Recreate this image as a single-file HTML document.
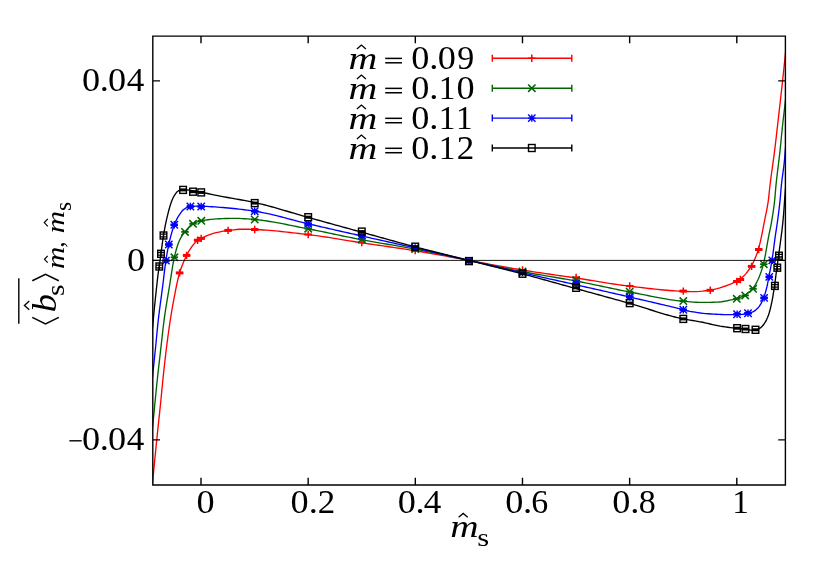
<!DOCTYPE html><html><head><meta charset="utf-8"><title>plot</title><style>html,body{margin:0;padding:0;background:#fff}svg{display:block;will-change:transform}text{font-family:"Liberation Serif",serif;fill:#000}</style></head><body>
<svg width="830" height="581" viewBox="0 0 830 581">
<rect width="830" height="581" fill="#fff"/>
<defs><clipPath id="cp"><rect x="152.8" y="36.1" width="632.6" height="448.9"/></clipPath></defs>
<g clip-path="url(#cp)">
<path d="M151.00,499.00 L151.31,496.04 L151.60,493.08 L151.89,490.11 L152.17,487.15 L152.44,484.19 L152.71,481.22 L152.98,478.26 L153.25,475.29 L153.54,472.33 L153.82,469.37 L154.11,466.41 L154.39,463.44 L154.68,460.48 L154.97,457.52 L155.27,454.56 L155.56,451.59 L155.86,448.63 L156.16,445.67 L156.46,442.71 L156.76,439.75 L157.06,436.79 L157.37,433.83 L157.68,430.86 L157.99,427.90 L158.30,424.94 L158.62,421.98 L158.93,419.02 L159.25,416.06 L159.56,413.10 L159.87,410.14 L160.18,407.18 L160.48,404.22 L160.78,401.26 L161.07,398.30 L161.36,395.34 L161.65,392.37 L161.94,389.41 L162.23,386.45 L162.52,383.48 L162.81,380.52 L163.11,377.56 L163.41,374.60 L163.72,371.64 L164.04,368.68 L164.37,365.72 L164.70,362.76 L165.04,359.81 L165.38,356.85 L165.73,353.89 L166.09,350.94 L166.45,347.98 L166.82,345.03 L167.20,342.08 L167.59,339.13 L167.98,336.18 L168.38,333.22 L168.79,330.28 L169.21,327.33 L169.64,324.38 L170.08,321.44 L170.53,318.50 L171.00,315.56 L171.48,312.62 L171.98,309.69 L172.49,306.75 L173.01,303.82 L173.55,300.89 L174.11,297.97 L174.67,295.05 L175.23,292.11 L175.80,289.18 L176.39,286.25 L177.00,283.33 L177.66,280.42 L178.35,277.53 L179.10,274.67 L179.92,271.83 L180.84,269.01 L181.86,266.21 L182.96,263.42 L184.14,260.67 L185.38,257.95 L186.66,255.28 L188.02,252.63 L189.52,250.03 L191.16,247.56 L192.94,245.16 L194.91,242.85 L197.06,240.82 L199.53,239.23 L202.21,237.90 L204.91,236.61 L207.65,235.39 L210.43,234.32 L213.25,233.45 L216.11,232.71 L219.02,232.04 L221.95,231.45 L224.90,230.94 L227.85,230.53 L230.80,230.17 L233.76,229.81 L236.73,229.51 L239.70,229.29 L242.68,229.20 L245.65,229.22 L248.63,229.29 L251.60,229.39 L254.58,229.50 L257.55,229.62 L260.52,229.78 L263.49,229.96 L266.46,230.16 L269.42,230.39 L272.39,230.64 L275.36,230.91 L278.32,231.20 L281.29,231.50 L284.25,231.81 L287.21,232.14 L290.17,232.47 L293.13,232.82 L296.09,233.17 L299.05,233.52 L302.01,233.87 L304.96,234.22 L307.92,234.57 L310.87,234.93 L313.82,235.31 L316.77,235.70 L319.71,236.12 L322.66,236.55 L325.60,236.99 L328.54,237.45 L331.48,237.92 L334.42,238.39 L337.36,238.87 L340.30,239.35 L343.24,239.84 L346.18,240.32 L349.12,240.80 L352.06,241.28 L355.00,241.75 L357.94,242.22 L360.88,242.67 L363.82,243.11 L366.77,243.55 L369.71,243.98 L372.66,244.41 L375.61,244.84 L378.55,245.26 L381.50,245.68 L384.45,246.11 L387.39,246.53 L390.34,246.96 L393.29,247.38 L396.23,247.81 L399.18,248.25 L402.12,248.69 L405.06,249.13 L408.00,249.59 L410.94,250.05 L413.88,250.52 L416.82,251.00 L419.75,251.48 L422.69,251.98 L425.62,252.49 L428.55,253.00 L431.48,253.53 L434.41,254.05 L437.34,254.59 L440.27,255.12 L443.20,255.66 L446.12,256.21 L449.05,256.75 L451.98,257.30 L454.90,257.84 L457.83,258.38 L460.76,258.92 L463.69,259.46 L466.61,260.00 L469.54,260.53 L472.47,261.06 L475.40,261.59 L478.33,262.13 L481.26,262.67 L484.18,263.21 L487.11,263.76 L490.04,264.30 L492.97,264.84 L495.89,265.38 L498.82,265.92 L501.75,266.46 L504.68,266.99 L507.61,267.51 L510.54,268.03 L513.47,268.54 L516.41,269.04 L519.34,269.53 L522.28,270.02 L525.21,270.49 L528.15,270.96 L531.09,271.41 L534.04,271.86 L536.98,272.30 L539.92,272.74 L542.87,273.18 L545.81,273.60 L548.76,274.03 L551.71,274.46 L554.65,274.88 L557.60,275.30 L560.55,275.73 L563.49,276.15 L566.44,276.58 L569.39,277.01 L572.33,277.44 L575.27,277.88 L578.22,278.33 L581.16,278.79 L584.10,279.25 L587.04,279.73 L589.98,280.21 L592.92,280.69 L595.86,281.18 L598.80,281.66 L601.74,282.14 L604.68,282.62 L607.62,283.09 L610.56,283.55 L613.50,284.00 L616.44,284.44 L619.39,284.87 L622.33,285.27 L625.28,285.66 L628.23,286.03 L631.19,286.38 L634.14,286.73 L637.10,287.08 L640.05,287.43 L643.01,287.78 L645.97,288.13 L648.93,288.46 L651.89,288.79 L654.86,289.11 L657.82,289.42 L660.78,289.72 L663.75,290.00 L666.72,290.26 L669.68,290.50 L672.65,290.72 L675.62,290.92 L678.59,291.09 L681.56,291.23 L684.53,291.35 L687.51,291.46 L690.49,291.55 L693.46,291.60 L696.43,291.55 L699.41,291.37 L702.39,291.08 L705.35,290.72 L708.30,290.32 L711.22,289.90 L714.14,289.32 L717.05,288.61 L719.93,287.80 L722.78,286.92 L725.60,286.00 L728.38,284.97 L731.13,283.80 L733.85,282.55 L736.52,281.24 L739.18,279.84 L741.50,278.12 L743.68,276.10 L745.74,273.87 L747.66,271.48 L749.43,269.01 L751.01,266.52 L752.44,263.99 L753.77,261.34 L755.01,258.60 L756.15,255.80 L757.19,252.97 L758.11,250.13 L758.93,247.31 L759.68,244.45 L760.37,241.56 L761.02,238.66 L761.63,235.73 L762.21,232.80 L762.78,229.86 L763.34,226.92 L763.91,223.99 L764.49,221.07 L765.08,218.15 L765.68,215.23 L766.27,212.31 L766.85,209.39 L767.38,206.46 L767.88,203.52 L768.32,200.59 L768.69,197.64 L769.02,194.68 L769.31,191.71 L769.61,188.75 L769.94,185.79 L770.29,182.84 L770.67,179.88 L771.06,176.93 L771.45,173.98 L771.86,171.03 L772.27,168.09 L772.68,165.14 L773.09,162.19 L773.49,159.24 L773.89,156.29 L774.28,153.34 L774.65,150.38 L775.01,147.43 L775.37,144.48 L775.72,141.52 L776.06,138.56 L776.40,135.61 L776.74,132.65 L777.08,129.69 L777.41,126.73 L777.75,123.77 L778.08,120.82 L778.42,117.86 L778.76,114.90 L779.10,111.94 L779.43,108.99 L779.77,106.03 L780.11,103.07 L780.44,100.11 L780.77,97.16 L781.11,94.20 L781.44,91.24 L781.76,88.28 L782.09,85.32 L782.41,82.36 L782.73,79.40 L783.05,76.45 L783.37,73.49 L783.68,70.53 L783.99,67.57 L784.30,64.60 L784.61,61.64 L784.92,58.68 L785.22,55.72 L785.52,52.76 L785.82,49.80 L786.11,46.84 L786.41,43.88 L786.73,40.92 L787.06,37.96 L787.40,35.00" stroke="#ff0000" stroke-width="1.35" fill="none" stroke-linejoin="round"/>
<path d="M150.70,446.00 L150.98,443.20 L151.26,440.39 L151.54,437.59 L151.82,434.78 L152.10,431.98 L152.38,429.18 L152.66,426.37 L152.94,423.57 L153.22,420.76 L153.49,417.96 L153.76,415.15 L154.03,412.35 L154.31,409.54 L154.58,406.74 L154.85,403.93 L155.12,401.13 L155.39,398.32 L155.67,395.52 L155.95,392.71 L156.23,389.91 L156.51,387.10 L156.80,384.30 L157.09,381.50 L157.39,378.70 L157.70,375.90 L158.00,373.09 L158.32,370.29 L158.63,367.49 L158.95,364.69 L159.28,361.89 L159.60,359.09 L159.92,356.29 L160.25,353.50 L160.57,350.70 L160.89,347.90 L161.21,345.10 L161.53,342.29 L161.83,339.49 L162.14,336.69 L162.45,333.89 L162.76,331.09 L163.08,328.29 L163.41,325.49 L163.75,322.69 L164.11,319.90 L164.49,317.11 L164.89,314.32 L165.31,311.53 L165.74,308.75 L166.18,305.96 L166.63,303.18 L167.09,300.40 L167.56,297.62 L168.02,294.84 L168.49,292.06 L168.96,289.28 L169.42,286.50 L169.87,283.72 L170.31,280.93 L170.74,278.14 L171.17,275.35 L171.61,272.56 L172.05,269.78 L172.52,267.00 L173.01,264.22 L173.53,261.46 L174.08,258.70 L174.68,255.95 L175.33,253.21 L176.04,250.47 L176.83,247.75 L177.69,245.07 L178.65,242.44 L179.77,239.83 L181.05,237.31 L182.50,234.93 L184.25,232.69 L186.07,230.52 L187.93,228.26 L189.89,226.12 L191.99,224.33 L194.31,223.04 L196.94,221.96 L199.72,221.13 L202.46,220.60 L205.22,220.16 L208.00,219.76 L210.81,219.41 L213.64,219.12 L216.47,218.89 L219.30,218.71 L222.11,218.60 L224.93,218.54 L227.75,218.48 L230.57,218.44 L233.39,218.41 L236.20,218.40 L239.02,218.45 L241.84,218.56 L244.65,218.73 L247.47,218.94 L250.28,219.18 L253.09,219.42 L255.88,219.67 L258.68,219.95 L261.47,220.27 L264.26,220.63 L267.04,221.03 L269.83,221.46 L272.61,221.91 L275.38,222.40 L278.16,222.90 L280.93,223.42 L283.71,223.96 L286.48,224.51 L289.25,225.07 L292.02,225.64 L294.79,226.20 L297.56,226.76 L300.32,227.32 L303.09,227.87 L305.86,228.41 L308.63,228.94 L311.40,229.47 L314.16,230.00 L316.93,230.55 L319.69,231.11 L322.45,231.68 L325.21,232.25 L327.97,232.82 L330.73,233.40 L333.49,233.98 L336.24,234.57 L339.00,235.15 L341.76,235.73 L344.52,236.31 L347.28,236.88 L350.04,237.44 L352.80,238.00 L355.56,238.56 L358.33,239.10 L361.10,239.63 L363.87,240.15 L366.64,240.66 L369.41,241.15 L372.19,241.64 L374.96,242.13 L377.74,242.61 L380.52,243.08 L383.30,243.55 L386.08,244.02 L388.86,244.49 L391.64,244.95 L394.42,245.42 L397.19,245.90 L399.97,246.37 L402.75,246.86 L405.52,247.35 L408.30,247.84 L411.07,248.35 L413.84,248.87 L416.61,249.40 L419.37,249.94 L422.13,250.48 L424.90,251.04 L427.66,251.60 L430.42,252.18 L433.17,252.75 L435.93,253.33 L438.69,253.92 L441.44,254.51 L444.20,255.10 L446.95,255.70 L449.71,256.30 L452.46,256.89 L455.22,257.49 L457.97,258.08 L460.73,258.67 L463.49,259.26 L466.24,259.85 L469.00,260.43 L471.76,261.01 L474.52,261.60 L477.27,262.19 L480.03,262.78 L482.78,263.37 L485.54,263.97 L488.29,264.56 L491.05,265.16 L493.80,265.75 L496.56,266.34 L499.32,266.93 L502.07,267.52 L504.83,268.10 L507.59,268.67 L510.35,269.24 L513.11,269.80 L515.87,270.36 L518.64,270.91 L521.40,271.44 L524.17,271.97 L526.94,272.49 L529.71,272.99 L532.48,273.49 L535.26,273.98 L538.04,274.46 L540.81,274.94 L543.59,275.41 L546.37,275.88 L549.15,276.35 L551.93,276.82 L554.71,277.28 L557.49,277.76 L560.27,278.23 L563.05,278.71 L565.82,279.19 L568.60,279.68 L571.37,280.18 L574.14,280.69 L576.91,281.21 L579.68,281.74 L582.44,282.28 L585.21,282.84 L587.97,283.40 L590.73,283.96 L593.49,284.54 L596.25,285.12 L599.01,285.70 L601.76,286.28 L604.52,286.86 L607.28,287.44 L610.04,288.02 L612.80,288.60 L615.56,289.17 L618.32,289.73 L621.08,290.29 L623.84,290.84 L626.61,291.37 L629.38,291.90 L632.15,292.43 L634.91,292.97 L637.68,293.52 L640.45,294.08 L643.22,294.64 L645.99,295.21 L648.76,295.77 L651.53,296.33 L654.30,296.88 L657.07,297.41 L659.85,297.93 L662.62,298.44 L665.40,298.92 L668.18,299.37 L670.97,299.80 L673.75,300.19 L676.54,300.55 L679.33,300.87 L682.12,301.15 L684.92,301.40 L687.73,301.64 L690.54,301.88 L693.36,302.08 L696.17,302.25 L698.99,302.36 L701.81,302.40 L704.63,302.39 L707.45,302.36 L710.27,302.31 L713.09,302.26 L715.89,302.18 L718.70,302.01 L721.51,301.71 L724.32,301.29 L727.12,300.77 L729.90,300.18 L732.65,299.54 L735.37,298.87 L738.06,298.12 L740.75,297.15 L743.34,295.97 L745.75,294.64 L748.09,293.01 L750.29,291.14 L752.26,289.12 L753.94,286.97 L755.46,284.59 L756.83,282.06 L758.06,279.49 L759.17,276.92 L760.20,274.30 L761.15,271.63 L762.02,268.93 L762.81,266.22 L763.52,263.50 L764.17,260.77 L764.75,258.03 L765.30,255.27 L765.81,252.49 L766.30,249.71 L766.78,246.93 L767.25,244.14 L767.74,241.36 L768.23,238.58 L768.76,235.81 L769.31,233.04 L769.88,230.28 L770.46,227.52 L771.01,224.76 L771.54,221.99 L772.01,219.21 L772.46,216.43 L772.90,213.65 L773.32,210.86 L773.71,208.07 L774.08,205.27 L774.43,202.48 L774.73,199.68 L775.00,196.87 L775.23,194.06 L775.46,191.25 L775.69,188.44 L775.95,185.64 L776.23,182.83 L776.53,180.03 L776.85,177.23 L777.18,174.43 L777.51,171.64 L777.86,168.84 L778.20,166.04 L778.55,163.24 L778.89,160.45 L779.23,157.65 L779.56,154.85 L779.88,152.05 L780.18,149.25 L780.47,146.44 L780.75,143.64 L781.03,140.84 L781.30,138.03 L781.57,135.23 L781.85,132.42 L782.13,129.62 L782.42,126.81 L782.73,124.01 L783.04,121.21 L783.36,118.41 L783.69,115.61 L784.02,112.81 L784.35,110.02 L784.68,107.22 L785.01,104.42 L785.33,101.62 L785.65,98.82 L785.96,96.02 L786.27,93.22 L786.57,90.41 L786.85,87.61 L787.13,84.81 L787.40,82.00" stroke="#006400" stroke-width="1.35" fill="none" stroke-linejoin="round"/>
<path d="M150.70,395.00 L150.97,392.34 L151.23,389.68 L151.50,387.02 L151.76,384.36 L152.03,381.70 L152.29,379.04 L152.56,376.38 L152.83,373.72 L153.10,371.06 L153.38,368.40 L153.66,365.74 L153.93,363.08 L154.21,360.42 L154.49,357.76 L154.77,355.10 L155.05,352.44 L155.32,349.78 L155.60,347.12 L155.86,344.46 L156.13,341.80 L156.38,339.14 L156.64,336.48 L156.89,333.82 L157.15,331.16 L157.41,328.50 L157.68,325.84 L157.95,323.18 L158.24,320.52 L158.54,317.86 L158.86,315.21 L159.19,312.56 L159.52,309.90 L159.87,307.25 L160.22,304.60 L160.57,301.95 L160.93,299.30 L161.29,296.65 L161.65,294.00 L162.00,291.35 L162.35,288.70 L162.69,286.05 L163.03,283.40 L163.35,280.74 L163.66,278.09 L163.98,275.43 L164.29,272.77 L164.61,270.12 L164.95,267.47 L165.30,264.82 L165.67,262.17 L166.06,259.53 L166.48,256.89 L166.92,254.24 L167.38,251.61 L167.88,248.98 L168.40,246.36 L168.96,243.75 L169.55,241.14 L170.18,238.53 L170.84,235.92 L171.54,233.33 L172.30,230.75 L173.10,228.21 L173.97,225.70 L174.92,223.22 L176.00,220.75 L177.21,218.33 L178.55,216.02 L180.01,213.80 L181.67,211.54 L183.54,209.57 L185.64,208.21 L188.17,207.22 L190.81,206.64 L193.46,206.30 L196.14,206.11 L198.81,206.13 L201.49,206.21 L204.16,206.31 L206.83,206.44 L209.50,206.59 L212.17,206.75 L214.84,206.94 L217.50,207.13 L220.17,207.33 L222.83,207.54 L225.50,207.76 L228.16,207.99 L230.83,208.24 L233.49,208.51 L236.16,208.79 L238.82,209.08 L241.48,209.39 L244.14,209.72 L246.79,210.06 L249.43,210.41 L252.08,210.78 L254.71,211.17 L257.34,211.59 L259.96,212.04 L262.58,212.54 L265.19,213.06 L267.80,213.62 L270.41,214.21 L273.01,214.82 L275.61,215.45 L278.21,216.10 L280.80,216.76 L283.39,217.44 L285.99,218.12 L288.58,218.81 L291.17,219.50 L293.76,220.18 L296.36,220.87 L298.95,221.54 L301.55,222.20 L304.15,222.84 L306.75,223.47 L309.35,224.08 L311.96,224.68 L314.56,225.28 L317.17,225.88 L319.77,226.48 L322.38,227.07 L324.99,227.67 L327.59,228.27 L330.20,228.86 L332.81,229.45 L335.41,230.05 L338.02,230.64 L340.63,231.23 L343.24,231.82 L345.84,232.41 L348.45,233.00 L351.06,233.59 L353.67,234.18 L356.28,234.77 L358.88,235.36 L361.49,235.94 L364.10,236.53 L366.71,237.12 L369.32,237.70 L371.93,238.29 L374.54,238.87 L377.14,239.45 L379.75,240.03 L382.36,240.62 L384.97,241.20 L387.58,241.78 L390.19,242.36 L392.80,242.94 L395.41,243.52 L398.02,244.10 L400.63,244.69 L403.24,245.27 L405.85,245.86 L408.46,246.44 L411.06,247.03 L413.67,247.63 L416.28,248.22 L418.89,248.81 L421.49,249.41 L424.10,250.01 L426.70,250.61 L429.31,251.21 L431.91,251.81 L434.52,252.42 L437.12,253.02 L439.73,253.63 L442.33,254.23 L444.93,254.84 L447.54,255.44 L450.14,256.05 L452.75,256.66 L455.35,257.26 L457.95,257.87 L460.56,258.48 L463.16,259.08 L465.77,259.69 L468.37,260.29 L470.98,260.89 L473.58,261.50 L476.18,262.10 L478.79,262.71 L481.39,263.31 L484.00,263.92 L486.60,264.52 L489.21,265.13 L491.81,265.73 L494.41,266.34 L497.02,266.94 L499.62,267.54 L502.23,268.15 L504.83,268.75 L507.44,269.35 L510.04,269.95 L512.65,270.55 L515.25,271.15 L517.86,271.75 L520.47,272.34 L523.07,272.94 L525.68,273.53 L528.29,274.12 L530.90,274.70 L533.51,275.29 L536.11,275.88 L538.72,276.46 L541.33,277.04 L543.94,277.62 L546.55,278.21 L549.16,278.79 L551.77,279.37 L554.38,279.95 L556.99,280.53 L559.60,281.11 L562.21,281.69 L564.82,282.28 L567.43,282.86 L570.04,283.44 L572.65,284.03 L575.25,284.62 L577.86,285.21 L580.47,285.80 L583.08,286.38 L585.69,286.97 L588.29,287.56 L590.90,288.15 L593.51,288.74 L596.12,289.33 L598.72,289.92 L601.33,290.52 L603.94,291.11 L606.55,291.70 L609.15,292.29 L611.76,292.89 L614.37,293.48 L616.97,294.08 L619.58,294.68 L622.18,295.28 L624.79,295.88 L627.39,296.48 L630.00,297.08 L632.60,297.69 L635.21,298.29 L637.81,298.89 L640.42,299.49 L643.02,300.09 L645.63,300.70 L648.23,301.30 L650.84,301.90 L653.44,302.51 L656.05,303.12 L658.65,303.73 L661.25,304.34 L663.85,304.95 L666.46,305.57 L669.06,306.19 L671.66,306.82 L674.25,307.44 L676.85,308.08 L679.45,308.71 L682.04,309.36 L684.63,310.02 L687.21,310.74 L689.81,311.36 L692.44,311.79 L695.10,312.16 L697.73,312.62 L700.37,313.04 L703.02,313.33 L705.68,313.58 L708.35,313.79 L711.02,313.98 L713.69,314.13 L716.36,314.26 L719.03,314.38 L721.71,314.48 L724.38,314.56 L727.05,314.63 L729.73,314.69 L732.40,314.68 L735.07,314.56 L737.74,314.47 L740.42,314.41 L743.08,314.22 L745.74,313.87 L748.37,313.41 L750.97,312.68 L753.39,311.63 L755.70,310.12 L757.64,308.35 L759.25,306.35 L760.70,304.07 L761.99,301.62 L763.12,299.12 L764.09,296.66 L764.95,294.14 L765.71,291.56 L766.39,288.96 L767.02,286.35 L767.59,283.74 L768.09,281.11 L768.57,278.48 L769.06,275.85 L769.58,273.23 L770.09,270.60 L770.61,267.98 L771.10,265.35 L771.58,262.72 L772.02,260.08 L772.43,257.44 L772.81,254.80 L773.17,252.15 L773.53,249.50 L773.87,246.85 L774.21,244.19 L774.56,241.54 L774.91,238.89 L775.28,236.24 L775.67,233.60 L776.07,230.95 L776.47,228.31 L776.87,225.67 L777.26,223.02 L777.64,220.38 L777.99,217.73 L778.34,215.07 L778.68,212.42 L779.01,209.77 L779.32,207.11 L779.63,204.46 L779.92,201.80 L780.18,199.14 L780.42,196.48 L780.64,193.81 L780.85,191.15 L781.08,188.48 L781.33,185.82 L781.61,183.16 L781.93,180.51 L782.27,177.86 L782.62,175.20 L782.98,172.55 L783.34,169.90 L783.68,167.25 L784.01,164.60 L784.30,161.94 L784.57,159.28 L784.79,156.62 L785.00,153.95 L785.21,151.29 L785.43,148.62 L785.69,145.96 L785.96,143.30 L786.24,140.64 L786.50,137.98 L786.77,135.32 L787.03,132.66 L787.30,130.00" stroke="#0000ff" stroke-width="1.35" fill="none" stroke-linejoin="round"/>
<path d="M150.70,346.00 L150.96,343.45 L151.21,340.90 L151.47,338.34 L151.72,335.79 L151.98,333.24 L152.24,330.69 L152.49,328.13 L152.74,325.58 L152.98,323.03 L153.22,320.47 L153.45,317.92 L153.69,315.37 L153.93,312.81 L154.17,310.26 L154.43,307.71 L154.69,305.15 L154.96,302.60 L155.23,300.05 L155.50,297.50 L155.77,294.95 L156.05,292.40 L156.32,289.85 L156.59,287.30 L156.86,284.75 L157.14,282.20 L157.42,279.65 L157.71,277.10 L158.03,274.55 L158.38,272.01 L158.77,269.48 L159.16,266.94 L159.52,264.40 L159.86,261.86 L160.20,259.32 L160.53,256.78 L160.87,254.23 L161.21,251.69 L161.55,249.15 L161.89,246.60 L162.23,244.06 L162.58,241.52 L162.95,238.98 L163.35,236.45 L163.76,233.92 L164.20,231.39 L164.65,228.86 L165.12,226.33 L165.62,223.81 L166.15,221.30 L166.71,218.79 L167.30,216.31 L167.92,213.82 L168.57,211.29 L169.24,208.75 L169.97,206.22 L170.76,203.72 L171.62,201.29 L172.58,198.95 L173.65,196.73 L174.91,194.54 L176.58,192.31 L178.54,190.75 L180.84,190.07 L183.50,189.71 L186.05,189.79 L188.60,190.09 L191.15,190.48 L193.68,190.86 L196.21,191.32 L198.73,191.81 L201.25,192.31 L203.76,192.79 L206.28,193.28 L208.80,193.78 L211.31,194.29 L213.83,194.79 L216.34,195.30 L218.86,195.80 L221.38,196.30 L223.89,196.79 L226.41,197.27 L228.94,197.73 L231.46,198.19 L233.99,198.63 L236.52,199.08 L239.05,199.52 L241.58,199.97 L244.10,200.42 L246.62,200.89 L249.14,201.37 L251.65,201.88 L254.16,202.41 L256.65,202.96 L259.15,203.54 L261.63,204.15 L264.12,204.77 L266.60,205.41 L269.07,206.07 L271.55,206.75 L274.02,207.44 L276.49,208.14 L278.95,208.85 L281.42,209.57 L283.88,210.29 L286.34,211.02 L288.81,211.76 L291.27,212.49 L293.73,213.22 L296.19,213.95 L298.66,214.68 L301.12,215.40 L303.59,216.11 L306.06,216.81 L308.53,217.50 L311.00,218.19 L313.47,218.87 L315.95,219.56 L318.42,220.24 L320.89,220.93 L323.36,221.61 L325.83,222.29 L328.31,222.98 L330.78,223.66 L333.25,224.34 L335.72,225.03 L338.20,225.71 L340.67,226.39 L343.14,227.07 L345.61,227.76 L348.09,228.44 L350.56,229.12 L353.03,229.80 L355.50,230.48 L357.98,231.16 L360.45,231.85 L362.92,232.53 L365.40,233.21 L367.87,233.89 L370.34,234.58 L372.81,235.27 L375.28,235.95 L377.75,236.64 L380.23,237.33 L382.70,238.01 L385.17,238.70 L387.64,239.39 L390.11,240.07 L392.59,240.75 L395.06,241.44 L397.53,242.12 L400.01,242.79 L402.48,243.47 L404.96,244.14 L407.43,244.80 L409.91,245.47 L412.39,246.13 L414.87,246.78 L417.35,247.43 L419.83,248.08 L422.31,248.72 L424.80,249.36 L427.28,249.99 L429.77,250.63 L432.26,251.26 L434.74,251.88 L437.23,252.51 L439.72,253.13 L442.21,253.75 L444.70,254.37 L447.19,254.99 L449.68,255.61 L452.16,256.23 L454.65,256.85 L457.14,257.47 L459.63,258.09 L462.12,258.71 L464.61,259.33 L467.10,259.96 L469.59,260.59 L472.07,261.21 L474.56,261.83 L477.05,262.45 L479.54,263.07 L482.03,263.69 L484.52,264.31 L487.01,264.93 L489.50,265.55 L491.99,266.16 L494.48,266.78 L496.97,267.40 L499.46,268.02 L501.94,268.65 L504.43,269.27 L506.92,269.90 L509.41,270.53 L511.89,271.16 L514.38,271.80 L516.86,272.44 L519.34,273.08 L521.82,273.73 L524.30,274.38 L526.78,275.04 L529.26,275.70 L531.74,276.36 L534.21,277.03 L536.69,277.71 L539.16,278.38 L541.64,279.06 L544.11,279.74 L546.58,280.42 L549.06,281.11 L551.53,281.79 L554.00,282.48 L556.47,283.16 L558.94,283.85 L561.41,284.54 L563.88,285.23 L566.36,285.91 L568.83,286.60 L571.30,287.29 L573.77,287.97 L576.25,288.65 L578.72,289.33 L581.19,290.01 L583.67,290.69 L586.14,291.37 L588.61,292.05 L591.09,292.72 L593.56,293.40 L596.03,294.08 L598.51,294.76 L600.98,295.44 L603.46,296.12 L605.93,296.80 L608.40,297.48 L610.87,298.16 L613.35,298.85 L615.82,299.53 L618.29,300.22 L620.76,300.91 L623.23,301.60 L625.70,302.29 L628.17,302.98 L630.64,303.68 L633.10,304.40 L635.56,305.13 L638.02,305.88 L640.48,306.64 L642.93,307.40 L645.38,308.18 L647.83,308.96 L650.28,309.74 L652.74,310.51 L655.19,311.29 L657.64,312.05 L660.10,312.81 L662.55,313.55 L665.01,314.28 L667.48,314.99 L669.95,315.68 L672.42,316.34 L674.90,316.98 L677.38,317.60 L679.87,318.18 L682.37,318.72 L684.87,319.22 L687.40,319.67 L689.93,320.09 L692.47,320.51 L694.99,320.94 L697.53,321.37 L700.05,321.81 L702.57,322.28 L705.08,322.80 L707.58,323.39 L710.07,324.01 L712.57,324.58 L715.08,325.12 L717.59,325.64 L720.11,326.12 L722.64,326.53 L725.18,326.89 L727.72,327.23 L730.27,327.56 L732.82,327.86 L735.36,328.16 L737.91,328.45 L740.46,328.74 L743.01,329.03 L745.56,329.32 L748.12,329.68 L750.69,330.06 L753.22,330.28 L755.75,330.06 L758.26,329.10 L760.37,327.89 L762.21,326.28 L763.90,324.23 L765.39,321.93 L766.64,319.58 L767.64,317.32 L768.52,314.97 L769.30,312.53 L770.00,310.02 L770.63,307.49 L771.21,304.94 L771.75,302.41 L772.26,299.90 L772.72,297.38 L773.14,294.85 L773.53,292.31 L773.91,289.77 L774.28,287.23 L774.65,284.69 L775.00,282.15 L775.35,279.61 L775.68,277.06 L776.01,274.52 L776.34,271.98 L776.67,269.43 L777.01,266.89 L777.37,264.35 L777.73,261.81 L778.08,259.27 L778.43,256.73 L778.78,254.19 L779.12,251.64 L779.47,249.10 L779.82,246.56 L780.17,244.02 L780.52,241.48 L780.86,238.93 L781.19,236.39 L781.52,233.84 L781.84,231.30 L782.15,228.75 L782.44,226.20 L782.72,223.66 L782.98,221.11 L783.22,218.55 L783.45,216.00 L783.66,213.44 L783.85,210.89 L784.04,208.33 L784.22,205.77 L784.39,203.21 L784.57,200.65 L784.76,198.09 L784.95,195.53 L785.15,192.97 L785.36,190.42 L785.60,187.87 L785.85,185.31 L786.12,182.76 L786.38,180.21 L786.63,177.66 L786.89,175.10 L787.14,172.55 L787.40,170.00" stroke="#000000" stroke-width="1.35" fill="none" stroke-linejoin="round"/>
</g>
<g><path d="M175.90,272.90H183.30M179.60,269.20V276.60" stroke="#ff0000" stroke-width="1.5" fill="none"/><path d="M175.90,272.90H183.30" stroke="#ff0000" stroke-width="3.0" fill="none"/><path d="M182.90,255.40H190.30M186.60,251.70V259.10" stroke="#ff0000" stroke-width="1.5" fill="none"/><path d="M182.90,255.40H190.30" stroke="#ff0000" stroke-width="3.0" fill="none"/><path d="M193.90,240.20H201.30M197.60,236.50V243.90" stroke="#ff0000" stroke-width="1.5" fill="none"/><path d="M193.90,240.20H201.30" stroke="#ff0000" stroke-width="3.0" fill="none"/><path d="M197.50,238.40H204.90M201.20,234.70V242.10" stroke="#ff0000" stroke-width="1.5" fill="none"/><path d="M197.50,238.40H204.90" stroke="#ff0000" stroke-width="3.0" fill="none"/><path d="M224.40,230.40H231.80M228.10,226.70V234.10" stroke="#ff0000" stroke-width="1.5" fill="none"/><path d="M224.40,230.40H231.80" stroke="#ff0000" stroke-width="3.0" fill="none"/><path d="M251.00,229.50H258.40M254.70,225.80V233.20" stroke="#ff0000" stroke-width="1.5" fill="none"/><path d="M251.00,229.50H258.40" stroke="#ff0000" stroke-width="3.0" fill="none"/><path d="M304.50,234.50H311.90M308.20,230.80V238.20" stroke="#ff0000" stroke-width="1.5" fill="none"/><path d="M304.50,234.50H311.90" stroke="#ff0000" stroke-width="1.9" fill="none"/><path d="M358.10,242.50H365.50M361.80,238.80V246.20" stroke="#ff0000" stroke-width="1.5" fill="none"/><path d="M358.10,242.50H365.50" stroke="#ff0000" stroke-width="1.9" fill="none"/><path d="M411.50,250.60H418.90M415.20,246.90V254.30" stroke="#ff0000" stroke-width="1.5" fill="none"/><path d="M411.50,250.60H418.90" stroke="#ff0000" stroke-width="1.9" fill="none"/><path d="M465.20,260.90H472.60M468.90,257.20V264.60" stroke="#ff0000" stroke-width="1.5" fill="none"/><path d="M465.20,260.90H472.60" stroke="#ff0000" stroke-width="1.9" fill="none"/><path d="M518.80,269.90H526.20M522.50,266.20V273.60" stroke="#ff0000" stroke-width="1.5" fill="none"/><path d="M518.80,269.90H526.20" stroke="#ff0000" stroke-width="1.9" fill="none"/><path d="M572.40,277.40H579.80M576.10,273.70V281.10" stroke="#ff0000" stroke-width="1.5" fill="none"/><path d="M572.40,277.40H579.80" stroke="#ff0000" stroke-width="1.9" fill="none"/><path d="M626.00,285.90H633.40M629.70,282.20V289.60" stroke="#ff0000" stroke-width="1.5" fill="none"/><path d="M626.00,285.90H633.40" stroke="#ff0000" stroke-width="1.9" fill="none"/><path d="M679.60,291.10H687.00M683.30,287.40V294.80" stroke="#ff0000" stroke-width="1.5" fill="none"/><path d="M679.60,291.10H687.00" stroke="#ff0000" stroke-width="3.0" fill="none"/><path d="M706.60,290.30H714.00M710.30,286.60V294.00" stroke="#ff0000" stroke-width="1.5" fill="none"/><path d="M706.60,290.30H714.00" stroke="#ff0000" stroke-width="3.0" fill="none"/><path d="M733.10,281.50H740.50M736.80,277.80V285.20" stroke="#ff0000" stroke-width="1.5" fill="none"/><path d="M733.10,281.50H740.50" stroke="#ff0000" stroke-width="3.0" fill="none"/><path d="M736.70,279.50H744.10M740.40,275.80V283.20" stroke="#ff0000" stroke-width="1.5" fill="none"/><path d="M736.70,279.50H744.10" stroke="#ff0000" stroke-width="3.0" fill="none"/><path d="M747.90,266.40H755.30M751.60,262.70V270.10" stroke="#ff0000" stroke-width="1.5" fill="none"/><path d="M747.90,266.40H755.30" stroke="#ff0000" stroke-width="3.0" fill="none"/><path d="M755.00,249.50H762.40M758.70,245.80V253.20" stroke="#ff0000" stroke-width="1.5" fill="none"/><path d="M755.00,249.50H762.40" stroke="#ff0000" stroke-width="3.0" fill="none"/></g>
<g><path d="M170.70,253.60L178.10,261.00M170.70,261.00L178.10,253.60" stroke="#006400" stroke-width="1.5" fill="none"/><path d="M170.70,257.30H178.10" stroke="#006400" stroke-width="1.8" fill="none"/><path d="M181.30,228.20L188.70,235.60M181.30,235.60L188.70,228.20" stroke="#006400" stroke-width="1.5" fill="none"/><path d="M181.30,231.90H188.70" stroke="#006400" stroke-width="1.8" fill="none"/><path d="M189.30,220.10L196.70,227.50M189.30,227.50L196.70,220.10" stroke="#006400" stroke-width="1.5" fill="none"/><path d="M189.30,223.80H196.70" stroke="#006400" stroke-width="1.8" fill="none"/><path d="M197.60,217.10L205.00,224.50M197.60,224.50L205.00,217.10" stroke="#006400" stroke-width="1.5" fill="none"/><path d="M197.60,220.80H205.00" stroke="#006400" stroke-width="1.8" fill="none"/><path d="M251.00,215.80L258.40,223.20M251.00,223.20L258.40,215.80" stroke="#006400" stroke-width="1.5" fill="none"/><path d="M251.00,219.50H258.40" stroke="#006400" stroke-width="1.8" fill="none"/><path d="M304.50,225.00L311.90,232.40M304.50,232.40L311.90,225.00" stroke="#006400" stroke-width="1.5" fill="none"/><path d="M304.50,228.70H311.90" stroke="#006400" stroke-width="1.8" fill="none"/><path d="M358.10,235.50L365.50,242.90M358.10,242.90L365.50,235.50" stroke="#006400" stroke-width="1.5" fill="none"/><path d="M358.10,239.20H365.50" stroke="#006400" stroke-width="1.8" fill="none"/><path d="M411.50,245.40L418.90,252.80M411.50,252.80L418.90,245.40" stroke="#006400" stroke-width="1.5" fill="none"/><path d="M411.50,249.10H418.90" stroke="#006400" stroke-width="1.8" fill="none"/><path d="M465.20,257.20L472.60,264.60M465.20,264.60L472.60,257.20" stroke="#006400" stroke-width="1.5" fill="none"/><path d="M465.20,260.90H472.60" stroke="#006400" stroke-width="1.8" fill="none"/><path d="M518.80,267.80L526.20,275.20M518.80,275.20L526.20,267.80" stroke="#006400" stroke-width="1.5" fill="none"/><path d="M518.80,271.50H526.20" stroke="#006400" stroke-width="1.8" fill="none"/><path d="M572.40,276.50L579.80,283.90M572.40,283.90L579.80,276.50" stroke="#006400" stroke-width="1.5" fill="none"/><path d="M572.40,280.20H579.80" stroke="#006400" stroke-width="1.8" fill="none"/><path d="M626.00,288.00L633.40,295.40M626.00,295.40L633.40,288.00" stroke="#006400" stroke-width="1.5" fill="none"/><path d="M626.00,291.70H633.40" stroke="#006400" stroke-width="1.8" fill="none"/><path d="M679.60,297.40L687.00,304.80M679.60,304.80L687.00,297.40" stroke="#006400" stroke-width="1.5" fill="none"/><path d="M679.60,301.10H687.00" stroke="#006400" stroke-width="1.8" fill="none"/><path d="M733.10,295.10L740.50,302.50M733.10,302.50L740.50,295.10" stroke="#006400" stroke-width="1.5" fill="none"/><path d="M733.10,298.80H740.50" stroke="#006400" stroke-width="1.8" fill="none"/><path d="M741.50,291.70L748.90,299.10M741.50,299.10L748.90,291.70" stroke="#006400" stroke-width="1.5" fill="none"/><path d="M741.50,295.40H748.90" stroke="#006400" stroke-width="1.8" fill="none"/><path d="M749.40,285.10L756.80,292.50M749.40,292.50L756.80,285.10" stroke="#006400" stroke-width="1.5" fill="none"/><path d="M749.40,288.80H756.80" stroke="#006400" stroke-width="1.8" fill="none"/><path d="M760.10,260.50L767.50,267.90M760.10,267.90L767.50,260.50" stroke="#006400" stroke-width="1.5" fill="none"/><path d="M760.10,264.20H767.50" stroke="#006400" stroke-width="1.8" fill="none"/></g>
<g><path d="M162.20,260.60H169.60M165.90,256.90V264.30M162.20,256.90L169.60,264.30M162.20,264.30L169.60,256.90" stroke="#0000ff" stroke-width="1.4" fill="none"/><path d="M162.20,260.60H169.60" stroke="#0000ff" stroke-width="2.6" fill="none"/><path d="M165.10,244.50H172.50M168.80,240.80V248.20M165.10,240.80L172.50,248.20M165.10,248.20L172.50,240.80" stroke="#0000ff" stroke-width="1.4" fill="none"/><path d="M165.10,244.50H172.50" stroke="#0000ff" stroke-width="2.6" fill="none"/><path d="M170.60,224.80H178.00M174.30,221.10V228.50M170.60,221.10L178.00,228.50M170.60,228.50L178.00,221.10" stroke="#0000ff" stroke-width="1.4" fill="none"/><path d="M170.60,224.80H178.00" stroke="#0000ff" stroke-width="2.6" fill="none"/><path d="M186.70,206.50H194.10M190.40,202.80V210.20M186.70,202.80L194.10,210.20M186.70,210.20L194.10,202.80" stroke="#0000ff" stroke-width="1.4" fill="none"/><path d="M186.70,206.50H194.10" stroke="#0000ff" stroke-width="2.6" fill="none"/><path d="M197.50,206.50H204.90M201.20,202.80V210.20M197.50,202.80L204.90,210.20M197.50,210.20L204.90,202.80" stroke="#0000ff" stroke-width="1.4" fill="none"/><path d="M197.50,206.50H204.90" stroke="#0000ff" stroke-width="2.6" fill="none"/><path d="M251.00,211.20H258.40M254.70,207.50V214.90M251.00,207.50L258.40,214.90M251.00,214.90L258.40,207.50" stroke="#0000ff" stroke-width="1.4" fill="none"/><path d="M251.00,211.20H258.40" stroke="#0000ff" stroke-width="2.6" fill="none"/><path d="M304.50,223.70H311.90M308.20,220.00V227.40M304.50,220.00L311.90,227.40M304.50,227.40L311.90,220.00" stroke="#0000ff" stroke-width="1.4" fill="none"/><path d="M304.50,223.70H311.90" stroke="#0000ff" stroke-width="2.6" fill="none"/><path d="M358.10,235.40H365.50M361.80,231.70V239.10M358.10,231.70L365.50,239.10M358.10,239.10L365.50,231.70" stroke="#0000ff" stroke-width="1.4" fill="none"/><path d="M358.10,235.40H365.50" stroke="#0000ff" stroke-width="2.6" fill="none"/><path d="M411.50,247.90H418.90M415.20,244.20V251.60M411.50,244.20L418.90,251.60M411.50,251.60L418.90,244.20" stroke="#0000ff" stroke-width="1.4" fill="none"/><path d="M411.50,247.90H418.90" stroke="#0000ff" stroke-width="2.6" fill="none"/><path d="M465.20,260.90H472.60M468.90,257.20V264.60M465.20,257.20L472.60,264.60M465.20,264.60L472.60,257.20" stroke="#0000ff" stroke-width="1.4" fill="none"/><path d="M465.20,260.90H472.60" stroke="#0000ff" stroke-width="2.6" fill="none"/><path d="M518.80,272.60H526.20M522.50,268.90V276.30M518.80,268.90L526.20,276.30M518.80,276.30L526.20,268.90" stroke="#0000ff" stroke-width="1.4" fill="none"/><path d="M518.80,272.60H526.20" stroke="#0000ff" stroke-width="2.6" fill="none"/><path d="M572.40,283.60H579.80M576.10,279.90V287.30M572.40,279.90L579.80,287.30M572.40,287.30L579.80,279.90" stroke="#0000ff" stroke-width="1.4" fill="none"/><path d="M572.40,283.60H579.80" stroke="#0000ff" stroke-width="2.6" fill="none"/><path d="M626.00,296.90H633.40M629.70,293.20V300.60M626.00,293.20L633.40,300.60M626.00,300.60L633.40,293.20" stroke="#0000ff" stroke-width="1.4" fill="none"/><path d="M626.00,296.90H633.40" stroke="#0000ff" stroke-width="2.6" fill="none"/><path d="M679.60,309.80H687.00M683.30,306.10V313.50M679.60,306.10L687.00,313.50M679.60,313.50L687.00,306.10" stroke="#0000ff" stroke-width="1.4" fill="none"/><path d="M679.60,309.80H687.00" stroke="#0000ff" stroke-width="2.6" fill="none"/><path d="M733.40,314.20H740.80M737.10,310.50V317.90M733.40,310.50L740.80,317.90M733.40,317.90L740.80,310.50" stroke="#0000ff" stroke-width="1.4" fill="none"/><path d="M733.40,314.20H740.80" stroke="#0000ff" stroke-width="2.6" fill="none"/><path d="M744.30,313.30H751.70M748.00,309.60V317.00M744.30,309.60L751.70,317.00M744.30,317.00L751.70,309.60" stroke="#0000ff" stroke-width="1.4" fill="none"/><path d="M744.30,313.30H751.70" stroke="#0000ff" stroke-width="2.6" fill="none"/><path d="M760.40,297.90H767.80M764.10,294.20V301.60M760.40,294.20L767.80,301.60M760.40,301.60L767.80,294.20" stroke="#0000ff" stroke-width="1.4" fill="none"/><path d="M760.40,297.90H767.80" stroke="#0000ff" stroke-width="2.6" fill="none"/><path d="M765.60,276.90H773.00M769.30,273.20V280.60M765.60,273.20L773.00,280.60M765.60,280.60L773.00,273.20" stroke="#0000ff" stroke-width="1.4" fill="none"/><path d="M765.60,276.90H773.00" stroke="#0000ff" stroke-width="2.6" fill="none"/><path d="M768.60,260.40H776.00M772.30,256.70V264.10M768.60,256.70L776.00,264.10M768.60,264.10L776.00,256.70" stroke="#0000ff" stroke-width="1.4" fill="none"/><path d="M768.60,260.40H776.00" stroke="#0000ff" stroke-width="2.6" fill="none"/></g>
<g><rect x="156.00" y="263.00" width="6.60" height="7.00" stroke="#000000" stroke-width="1.4" fill="none"/><path d="M156.00,265.20H162.60M156.00,267.80H162.60" stroke="#000000" stroke-width="1.3" fill="none"/><path d="M159.30,263.00V270.00" stroke="#000000" stroke-width="1.2" fill="none"/><rect x="157.70" y="250.30" width="6.60" height="7.00" stroke="#000000" stroke-width="1.4" fill="none"/><path d="M157.70,252.50H164.30M157.70,255.10H164.30" stroke="#000000" stroke-width="1.3" fill="none"/><path d="M161.00,250.30V257.30" stroke="#000000" stroke-width="1.2" fill="none"/><rect x="160.20" y="232.00" width="6.60" height="7.00" stroke="#000000" stroke-width="1.4" fill="none"/><path d="M160.20,234.20H166.80M160.20,236.80H166.80" stroke="#000000" stroke-width="1.3" fill="none"/><path d="M163.50,232.00V239.00" stroke="#000000" stroke-width="1.2" fill="none"/><rect x="179.80" y="186.40" width="6.60" height="7.00" stroke="#000000" stroke-width="1.4" fill="none"/><path d="M179.80,189.90H186.40" stroke="#000000" stroke-width="3.0" fill="none"/><rect x="189.70" y="188.20" width="6.60" height="7.00" stroke="#000000" stroke-width="1.4" fill="none"/><path d="M189.70,191.70H196.30" stroke="#000000" stroke-width="3.0" fill="none"/><rect x="197.90" y="188.90" width="6.60" height="7.00" stroke="#000000" stroke-width="1.4" fill="none"/><path d="M197.90,192.40H204.50" stroke="#000000" stroke-width="3.0" fill="none"/><rect x="251.40" y="199.60" width="6.60" height="7.00" stroke="#000000" stroke-width="1.4" fill="none"/><path d="M251.40,203.10H258.00" stroke="#000000" stroke-width="3.0" fill="none"/><rect x="304.90" y="213.70" width="6.60" height="7.00" stroke="#000000" stroke-width="1.4" fill="none"/><path d="M304.90,217.20H311.50" stroke="#000000" stroke-width="3.0" fill="none"/><rect x="358.50" y="228.10" width="6.60" height="7.00" stroke="#000000" stroke-width="1.4" fill="none"/><path d="M358.50,231.60H365.10" stroke="#000000" stroke-width="3.0" fill="none"/><rect x="411.90" y="243.20" width="6.60" height="7.00" stroke="#000000" stroke-width="1.4" fill="none"/><path d="M411.90,246.70H418.50" stroke="#000000" stroke-width="3.0" fill="none"/><rect x="465.70" y="257.60" width="6.60" height="7.00" stroke="#000000" stroke-width="1.4" fill="none"/><path d="M465.70,261.10H472.30" stroke="#000000" stroke-width="3.0" fill="none"/><rect x="519.20" y="270.20" width="6.60" height="7.00" stroke="#000000" stroke-width="1.4" fill="none"/><path d="M519.20,273.70H525.80" stroke="#000000" stroke-width="3.0" fill="none"/><rect x="572.80" y="284.30" width="6.60" height="7.00" stroke="#000000" stroke-width="1.4" fill="none"/><path d="M572.80,287.80H579.40" stroke="#000000" stroke-width="3.0" fill="none"/><rect x="626.40" y="299.60" width="6.60" height="7.00" stroke="#000000" stroke-width="1.4" fill="none"/><path d="M626.40,303.10H633.00" stroke="#000000" stroke-width="3.0" fill="none"/><rect x="680.00" y="315.40" width="6.60" height="7.00" stroke="#000000" stroke-width="1.4" fill="none"/><path d="M680.00,318.90H686.60" stroke="#000000" stroke-width="3.0" fill="none"/><rect x="733.80" y="324.70" width="6.60" height="7.00" stroke="#000000" stroke-width="1.4" fill="none"/><path d="M733.80,328.20H740.40" stroke="#000000" stroke-width="3.0" fill="none"/><rect x="742.20" y="325.50" width="6.60" height="7.00" stroke="#000000" stroke-width="1.4" fill="none"/><path d="M742.20,329.00H748.80" stroke="#000000" stroke-width="3.0" fill="none"/><rect x="752.20" y="326.30" width="6.60" height="7.00" stroke="#000000" stroke-width="1.4" fill="none"/><path d="M752.20,329.80H758.80" stroke="#000000" stroke-width="3.0" fill="none"/><rect x="771.60" y="282.40" width="6.60" height="7.00" stroke="#000000" stroke-width="1.4" fill="none"/><path d="M771.60,284.60H778.20M771.60,287.20H778.20" stroke="#000000" stroke-width="1.3" fill="none"/><path d="M774.90,282.40V289.40" stroke="#000000" stroke-width="1.2" fill="none"/><rect x="774.00" y="264.20" width="6.60" height="7.00" stroke="#000000" stroke-width="1.4" fill="none"/><path d="M774.00,266.40H780.60M774.00,269.00H780.60" stroke="#000000" stroke-width="1.3" fill="none"/><path d="M777.30,264.20V271.20" stroke="#000000" stroke-width="1.2" fill="none"/><rect x="775.70" y="252.20" width="6.60" height="7.00" stroke="#000000" stroke-width="1.4" fill="none"/><path d="M775.70,254.40H782.30M775.70,257.00H782.30" stroke="#000000" stroke-width="1.3" fill="none"/><path d="M779.00,252.20V259.20" stroke="#000000" stroke-width="1.2" fill="none"/></g>
<path d="M152.8,260.4H785.4" stroke="#000" stroke-width="0.9" fill="none"/>
<path d="M152.8,36.1H785.4V485.0H152.8ZM201.00,485.0v-7.2M201.00,36.1v7.2M308.16,485.0v-7.2M308.16,36.1v7.2M415.32,485.0v-7.2M415.32,36.1v7.2M522.48,485.0v-7.2M522.48,36.1v7.2M629.64,485.0v-7.2M629.64,36.1v7.2M736.80,485.0v-7.2M736.80,36.1v7.2M152.8,80.90h7.2M785.4,80.90h-7.2M152.8,260.40h7.2M785.4,260.40h-7.2M152.8,439.90h7.2M785.4,439.90h-7.2" stroke="#000" stroke-width="1.4" fill="none" stroke-linejoin="miter"/>
<path d="M492.3,58.30H571.8M492.3,54.80v7M571.8,54.80v7" stroke="#ff0000" stroke-width="1.4" fill="none"/>
<path d="M528.10,58.30H535.50M531.80,54.60V62.00" stroke="#ff0000" stroke-width="1.5" fill="none"/>
<path d="M492.3,88.20H571.8M492.3,84.70v7M571.8,84.70v7" stroke="#006400" stroke-width="1.4" fill="none"/>
<path d="M528.10,84.50L535.50,91.90M528.10,91.90L535.50,84.50" stroke="#006400" stroke-width="1.5" fill="none"/>
<path d="M492.3,118.10H571.8M492.3,114.60v7M571.8,114.60v7" stroke="#0000ff" stroke-width="1.4" fill="none"/>
<path d="M528.10,118.10H535.50M531.80,114.40V121.80M528.10,114.40L535.50,121.80M528.10,121.80L535.50,114.40" stroke="#0000ff" stroke-width="1.4" fill="none"/>
<path d="M492.3,148.00H571.8M492.3,144.50v7M571.8,144.50v7" stroke="#000000" stroke-width="1.4" fill="none"/>
<rect x="528.50" y="144.50" width="6.60" height="7.00" stroke="#000000" stroke-width="1.4" fill="none"/>
<text transform="translate(82.12,90.95) scale(1.09,1)" font-size="33.3">0</text>
<text transform="translate(99.79,90.95) scale(1.1,1)" font-size="33.3">.</text>
<text transform="translate(108.12,90.95) scale(1.09,1)" font-size="33.3">0</text>
<text transform="translate(126.81,90.95) scale(1.055,1)" font-size="33.3">4</text>
<text transform="translate(82.12,450.20) scale(1.09,1)" font-size="33.3">0</text>
<text transform="translate(99.79,450.20) scale(1.1,1)" font-size="33.3">.</text>
<text transform="translate(108.12,450.20) scale(1.09,1)" font-size="33.3">0</text>
<text transform="translate(126.81,450.20) scale(1.055,1)" font-size="33.3">4</text>
<path d="M69.40,440.80L81.70,440.80" stroke="#000" stroke-width="1.4" fill="none" stroke-linejoin="miter" stroke-linecap="butt"/>
<text transform="translate(127.12,270.75) scale(1.09,1)" font-size="33.3">0</text>
<text transform="translate(196.52,513.40) scale(1.09,1)" font-size="33.3">0</text>
<text transform="translate(290.42,513.40) scale(1.09,1)" font-size="33.3">0</text>
<text transform="translate(308.69,513.40) scale(1.1,1)" font-size="33.3">.</text>
<text transform="translate(317.66,513.40) scale(1.05,1)" font-size="33.3">2</text>
<text transform="translate(397.82,513.40) scale(1.09,1)" font-size="33.3">0</text>
<text transform="translate(415.59,513.40) scale(1.1,1)" font-size="33.3">.</text>
<text transform="translate(423.81,513.40) scale(1.055,1)" font-size="33.3">4</text>
<text transform="translate(505.32,513.40) scale(1.09,1)" font-size="33.3">0</text>
<text transform="translate(522.99,513.40) scale(1.1,1)" font-size="33.3">.</text>
<text transform="translate(531.34,513.40) scale(1.02,1)" font-size="33.3">6</text>
<text transform="translate(612.32,513.40) scale(1.09,1)" font-size="33.3">0</text>
<text transform="translate(630.19,513.40) scale(1.1,1)" font-size="33.3">.</text>
<text transform="translate(638.81,513.40) scale(1.02,1)" font-size="33.3">8</text>
<text transform="translate(732.27,513.40) scale(1.0,1)" font-size="33.3">1</text>
<text transform="translate(450.28,537.20) scale(1.26,1)" font-size="31.2" font-style="italic">m</text>
<path d="M458.60,517.20L463.20,513.40L467.70,517.20" stroke="#000" stroke-width="1.3" fill="none" stroke-linejoin="miter" stroke-linecap="butt"/>
<text transform="translate(477.14,546.00) scale(1.17,1)" font-size="26.2">s</text>
<text transform="translate(348.46,68.90) scale(1.28,1)" font-size="31.2" font-style="italic">m</text>
<path d="M356.90,49.00L361.40,45.10L365.90,49.00" stroke="#000" stroke-width="1.3" fill="none" stroke-linejoin="miter" stroke-linecap="butt"/>
<path d="M385.20,58.40L402.00,58.40" stroke="#000" stroke-width="1.5" fill="none" stroke-linejoin="miter" stroke-linecap="butt"/>
<path d="M385.20,62.80L402.00,62.80" stroke="#000" stroke-width="1.5" fill="none" stroke-linejoin="miter" stroke-linecap="butt"/>
<text transform="translate(411.27,68.90) scale(1.09,1)" font-size="33.3">0</text>
<text transform="translate(429.19,68.90) scale(1.1,1)" font-size="33.3">.</text>
<text transform="translate(437.82,68.90) scale(1.09,1)" font-size="33.3">0</text>
<text transform="translate(457.31,68.90) scale(1.02,1)" font-size="33.3">9</text>
<text transform="translate(348.46,98.87) scale(1.28,1)" font-size="31.2" font-style="italic">m</text>
<path d="M356.90,78.97L361.40,75.07L365.90,78.97" stroke="#000" stroke-width="1.3" fill="none" stroke-linejoin="miter" stroke-linecap="butt"/>
<path d="M385.20,88.37L402.00,88.37" stroke="#000" stroke-width="1.5" fill="none" stroke-linejoin="miter" stroke-linecap="butt"/>
<path d="M385.20,92.77L402.00,92.77" stroke="#000" stroke-width="1.5" fill="none" stroke-linejoin="miter" stroke-linecap="butt"/>
<text transform="translate(411.27,98.87) scale(1.09,1)" font-size="33.3">0</text>
<text transform="translate(429.19,98.87) scale(1.1,1)" font-size="33.3">.</text>
<text transform="translate(438.67,98.87) scale(1.0,1)" font-size="33.3">1</text>
<text transform="translate(456.42,98.87) scale(1.09,1)" font-size="33.3">0</text>
<text transform="translate(348.46,128.84) scale(1.28,1)" font-size="31.2" font-style="italic">m</text>
<path d="M356.90,108.94L361.40,105.04L365.90,108.94" stroke="#000" stroke-width="1.3" fill="none" stroke-linejoin="miter" stroke-linecap="butt"/>
<path d="M385.20,118.34L402.00,118.34" stroke="#000" stroke-width="1.5" fill="none" stroke-linejoin="miter" stroke-linecap="butt"/>
<path d="M385.20,122.74L402.00,122.74" stroke="#000" stroke-width="1.5" fill="none" stroke-linejoin="miter" stroke-linecap="butt"/>
<text transform="translate(411.27,128.84) scale(1.09,1)" font-size="33.3">0</text>
<text transform="translate(429.19,128.84) scale(1.1,1)" font-size="33.3">.</text>
<text transform="translate(438.67,128.84) scale(1.0,1)" font-size="33.3">1</text>
<text transform="translate(456.07,128.84) scale(1.0,1)" font-size="33.3">1</text>
<text transform="translate(348.46,158.81) scale(1.28,1)" font-size="31.2" font-style="italic">m</text>
<path d="M356.90,138.91L361.40,135.01L365.90,138.91" stroke="#000" stroke-width="1.3" fill="none" stroke-linejoin="miter" stroke-linecap="butt"/>
<path d="M385.20,148.31L402.00,148.31" stroke="#000" stroke-width="1.5" fill="none" stroke-linejoin="miter" stroke-linecap="butt"/>
<path d="M385.20,152.71L402.00,152.71" stroke="#000" stroke-width="1.5" fill="none" stroke-linejoin="miter" stroke-linecap="butt"/>
<text transform="translate(411.27,158.81) scale(1.09,1)" font-size="33.3">0</text>
<text transform="translate(429.19,158.81) scale(1.1,1)" font-size="33.3">.</text>
<text transform="translate(438.67,158.81) scale(1.0,1)" font-size="33.3">1</text>
<text transform="translate(456.66,158.81) scale(1.05,1)" font-size="33.3">2</text>
<path d="M18.80,278.25L18.80,323.80" stroke="#000" stroke-width="1.4" fill="none" stroke-linejoin="miter" stroke-linecap="butt"/>
<path d="M32.30,317.40L45.50,324.00L58.80,317.40" stroke="#000" stroke-width="1.5" fill="none" stroke-linejoin="miter" stroke-linecap="butt"/>
<path d="M32.30,280.70L45.50,274.40L58.80,280.70" stroke="#000" stroke-width="1.5" fill="none" stroke-linejoin="miter" stroke-linecap="butt"/>
<text transform="rotate(-90) translate(-312.15,56.00) scale(1.07,1)" font-size="34" font-style="italic">b</text>
<path d="M29.30,301.10L24.40,305.40L29.30,309.80" stroke="#000" stroke-width="1.3" fill="none" stroke-linejoin="miter" stroke-linecap="butt"/>
<text transform="rotate(-90) translate(-296.11,63.90) scale(1.125,1)" font-size="26.2">s</text>
<text transform="rotate(-90) translate(-269.02,63.90) scale(1.19,1)" font-size="26" font-style="italic">m</text>
<path d="M47.70,255.80L44.50,259.30L47.70,262.70" stroke="#000" stroke-width="1.2" fill="none" stroke-linejoin="miter" stroke-linecap="butt"/>
<text transform="rotate(-90) translate(-247.86,63.90) scale(1.0,1)" font-size="25.3">,</text>
<text transform="rotate(-90) translate(-233.22,64.00) scale(1.19,1)" font-size="26" font-style="italic">m</text>
<path d="M47.80,218.90L44.30,222.60L47.80,226.30" stroke="#000" stroke-width="1.2" fill="none" stroke-linejoin="miter" stroke-linecap="butt"/>
<text transform="rotate(-90) translate(-210.97,71.20) scale(1.03,1)" font-size="23">s</text>
</svg></body></html>
